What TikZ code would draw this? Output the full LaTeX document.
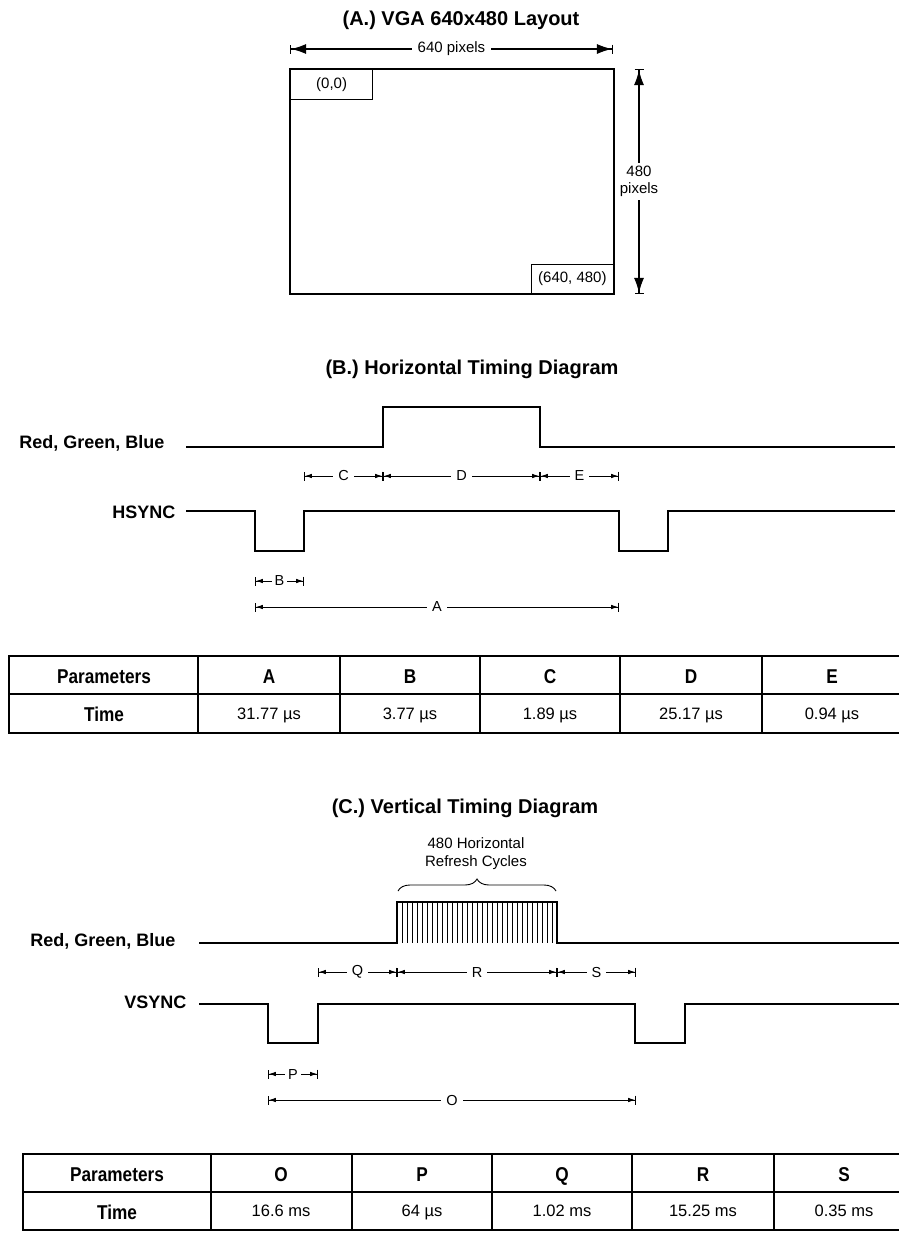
\documentclass[tikz,border=0pt]{standalone}
\usepackage{fontspec}
\setmainfont{Liberation Sans}
\newfontfamily\narrowfont[FakeStretch=0.86]{Liberation Sans}
\usetikzlibrary{arrows.meta,decorations.pathreplacing}

\begin{document}
\begin{tikzpicture}[x=1pt,y=-1pt,
    frame/.style={line width=1.3pt},
    wave/.style={line width=1.5pt},
    burst/.style={line width=0.8pt},
    rule/.style={line width=1.2pt},
    dimline/.style={line width=0.8pt,
      {Bar[width=9pt,line width=0.8pt]Latex[length=7pt,width=4.5pt,sep=0pt]}-{Latex[length=7pt,width=4.5pt,sep=0pt]Bar[width=9pt,line width=0.8pt]}},
    bigdim/.style={line width=1.1pt,
      {Bar[width=9pt,line width=1.1pt]Latex[length=15pt,width=10pt,sep=0pt]}-{Latex[length=15pt,width=10pt,sep=0pt]Bar[width=9pt,line width=1.1pt]}},
    heading/.style={font=\fontsize{20}{23}\selectfont\bfseries,anchor=base},
    signal/.style={font=\fontsize{18}{21}\selectfont\bfseries,anchor=base east},
    tag/.style={font=\fontsize{14.5}{17}\selectfont,fill=white,inner sep=5pt},
    cornerbox/.style={draw,line width=1.2pt,minimum width=82pt,minimum height=30pt,
      font=\fontsize{15}{18}\selectfont},
    colhead/.style={font=\narrowfont\fontsize{20}{23}\selectfont\bfseries,anchor=base},
    cell/.style={font=\fontsize{16.5}{19}\selectfont,anchor=base}]

  \useasboundingbox (0,0) rectangle (899,1250);

  % --- (A.) the screen layout ---
  \node[heading] (ttlA) at (461,25) {(A.) VGA 640x480 Layout};
  \draw[frame] (290,69) rectangle (614,294);
  \node[cornerbox,anchor=north west] (origin) at (290,69) {(0,0)};
  \node[cornerbox,anchor=south east,minimum height=29pt] (corner) at (614,294) {(640, 480)};
  \coordinate (wl) at (290,49);
  \coordinate (wr) at (613,49);
  \coordinate (ht) at (639,69);
  \coordinate (hb) at (639,294);
  \draw[bigdim] (wl) -- node[tag,font=\fontsize{15}{18}\selectfont,inner sep=6pt] (wtxt) {640 pixels} (wr);
  \draw[bigdim] (ht) -- node[tag,font=\fontsize{15}{17}\selectfont,align=center,inner sep=3pt] (htxt) {480\\pixels} (hb);

  % --- (B.) horizontal timing ---
  \node[heading] (ttlB) at (472,374) {(B.) Horizontal Timing Diagram};
  \node[signal] (rgbB) at (168,448) {Red, Green, Blue};
  \node[signal] (hsync) at (179,518) {HSYNC};
  \draw[wave] (186,447) -- (383,447) -- (383,407) -- (540,407) -- (540,447) -- (895,447);
  \draw[wave] (186,511) -- (255,511) -- (255,551) -- (304,551) -- (304,511) -- (619,511)
              -- (619,551) -- (668,551) -- (668,511) -- (895,511);

  \coordinate (c0) at (304,476);
  \coordinate (c1) at (383,476);
  \coordinate (c2) at (540,476);
  \coordinate (c3) at (619,476);
  \coordinate (b0) at (255,581);
  \coordinate (b1) at (304,581);
  \coordinate (a0) at (255,607);
  \coordinate (a1) at (619,607);
  \draw[dimline] (c0) -- node[tag] (tC) {C} (c1);
  \draw[dimline] (c1) -- node[tag] (tD) {D} (c2);
  \draw[dimline] (c2) -- node[tag] (tE) {E} (c3);
  \draw[dimline] (b0) -- node[tag,inner sep=3pt] (tB) {B} (b1);
  \draw[dimline] (a0) -- node[tag] (tA) {A} (a1);

  % --- horizontal table ---
  \draw[rule] (899,656) -- (9,656) -- (9,733) -- (899,733);
  \draw[rule] (9,694) -- (899,694);
  \foreach \xc in {198,340,480,620,762}
    \draw[rule] (\xc,656) -- (\xc,733);
  \node[colhead] (parB) at (104,683) {Parameters};
  \node[colhead] (timB) at (104,721) {Time};
  \foreach \xc/\pn/\tv [count=\k] in {269/A/{31.77 µs},410/B/{3.77 µs},550/C/{1.89 µs},
                                      691/D/{25.17 µs},832/E/{0.94 µs}} {
    \node[colhead] (hB\k) at (\xc,683) {\pn};
    \node[cell] (vB\k) at (\xc,719) {\tv};
  }

  % --- (C.) vertical timing ---
  \node[heading] (ttlC) at (465,813) {(C.) Vertical Timing Diagram};
  \node[cell,anchor=center,align=center,font=\fontsize{15}{18}\selectfont] (cycles) at (476,854) {480 Horizontal\\Refresh Cycles};
  \draw[line width=0.9pt,decorate,decoration={brace,amplitude=12pt}] (398,891) -- (556,891);
  \node[signal] (rgbC) at (179,946) {Red, Green, Blue};
  \node[signal] (vsync) at (190,1008) {VSYNC};
  \draw[wave] (199,943) -- (397,943) -- (397,902) -- (557,902) -- (557,943) -- (899,943);
  \foreach \k in {1,...,31}
    \draw[burst] ({397+5*\k},902) -- ({397+5*\k},943);
  \draw[wave] (199,1004) -- (268,1004) -- (268,1043) -- (318,1043) -- (318,1004) -- (635,1004)
              -- (635,1043) -- (685,1043) -- (685,1004) -- (899,1004);

  \coordinate (q0) at (318,972);
  \coordinate (q1) at (397,972);
  \coordinate (q2) at (557,972);
  \coordinate (q3) at (636,972);
  \coordinate (p0) at (268,1074);
  \coordinate (p1) at (318,1074);
  \coordinate (o0) at (268,1100);
  \coordinate (o1) at (636,1100);
  \draw[dimline] (q0) -- node[tag] (tQ) {Q} (q1);
  \draw[dimline] (q1) -- node[tag] (tR) {R} (q2);
  \draw[dimline] (q2) -- node[tag] (tS) {S} (q3);
  \draw[dimline] (p0) -- node[tag,inner sep=3pt] (tP) {P} (p1);
  \draw[dimline] (o0) -- node[tag] (tO) {O} (o1);

  % --- vertical table ---
  \draw[rule] (899,1154) -- (23,1154) -- (23,1230) -- (899,1230);
  \draw[rule] (23,1192) -- (899,1192);
  \foreach \xc in {211,352,492,632,774}
    \draw[rule] (\xc,1154) -- (\xc,1230);
  \node[colhead] (parC) at (117,1181) {Parameters};
  \node[colhead] (timC) at (117,1219) {Time};
  \foreach \xc/\pn/\tv [count=\k] in {281/O/{16.6 ms},422/P/{64 µs},562/Q/{1.02 ms},
                                      703/R/{15.25 ms},844/S/{0.35 ms}} {
    \node[colhead] (hC\k) at (\xc,1181) {\pn};
    \node[cell] (vC\k) at (\xc,1216) {\tv};
  }
\end{tikzpicture}
\end{document}
